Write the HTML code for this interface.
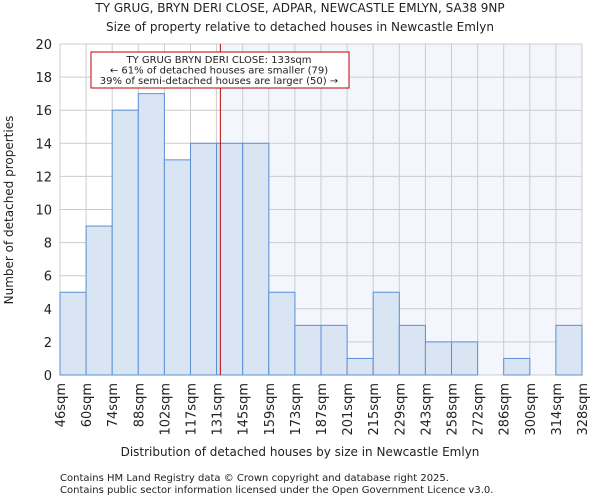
<!DOCTYPE html>
<html><head><meta charset="utf-8"><style>
body{margin:0;background:#fff;font-family:"DejaVu Sans","Liberation Sans",sans-serif;}
svg text{font-family:"DejaVu Sans","Liberation Sans",sans-serif;fill:#222;}
</style></head><body>
<svg id="c" width="600" height="500">
<text x="300" y="12" text-anchor="middle" font-size="12">TY GRUG, BRYN DERI CLOSE, ADPAR, NEWCASTLE EMLYN, SA38 9NP</text>
<text x="300" y="31" text-anchor="middle" font-size="12">Size of property relative to detached houses in Newcastle Emlyn</text>
<g id="plot"></g>
<text x="300" y="456" text-anchor="middle" font-size="12">Distribution of detached houses by size in Newcastle Emlyn</text>
<text transform="translate(13,210) rotate(-90)" text-anchor="middle" font-size="12">Number of detached properties</text>
<text x="60" y="481" font-size="10" fill="#444">Contains HM Land Registry data © Crown copyright and database right 2025.</text>
<text x="60" y="493" font-size="10" fill="#444">Contains public sector information licensed under the Open Government Licence v3.0.</text>
</svg>
<script>
const binLabels=["46sqm","60sqm","74sqm","88sqm","102sqm","117sqm","131sqm","145sqm","159sqm","173sqm","187sqm","201sqm","215sqm","229sqm","243sqm","258sqm","272sqm","286sqm","300sqm","314sqm","328sqm"];
const binEdges=[46,60,74,88,102,117,131,145,159,173,187,201,215,229,243,258,272,286,300,314,328];
const counts=[5,9,16,17,13,14,14,14,5,3,3,1,5,3,2,2,0,1,0,3];
const yTicks=[0,2,4,6,8,10,12,14,16,18,20];
const propertySize=133;
const NS="http://www.w3.org/2000/svg";
const L=60,R=582,T=44,B=375;
const n=counts.length;
const xi=i=>L+(R-L)*i/n;
function xv(v){for(let i=0;i<n;i++){if(v<=binEdges[i+1]){return xi(i)+(v-binEdges[i])/(binEdges[i+1]-binEdges[i])*(R-L)/n;}}return R;}
const y=v=>B-(B-T)*v/20;
const g=document.getElementById('plot');
function mk(t,a){const e=document.createElementNS(NS,t);for(const k in a)e.setAttribute(k,a[k]);g.appendChild(e);return e;}
const px=xv(propertySize);
let e=mk('rect',{x:px,y:T,width:R-px,height:B-T,fill:'#f3f6fd'});


yTicks.forEach(t=>{
 let l=mk('line',{x1:L,x2:R,y1:y(t),y2:y(t),stroke:'#cccccc'});
 
 
 let tx=mk('text',{x:L-8,y:y(t)+5,'text-anchor':'end','font-size':13});
 tx.textContent=t;
 
 
});
binLabels.forEach((s,i)=>{
 let l=mk('line',{x1:xi(i),x2:xi(i),y1:T,y2:B,stroke:'#cccccc'});
 
 
 let tx=mk('text',{'text-anchor':'end','font-size':13,transform:`translate(${xi(i)+5},${B+8}) rotate(-90)`});
 tx.textContent=s;
 
 
});
counts.forEach((c,i)=>{
 if(c<=0)return;
 let r=mk('rect',{x:xi(i),y:y(c),width:(R-L)/n,height:B-y(c),fill:'#dae5f4',stroke:'#5b8fd6','stroke-width':1});
 
 
});
e=mk('line',{x1:px,x2:px,y1:T,y2:B,stroke:'#c00000','stroke-width':1});


e=mk('rect',{x:91,y:52,width:258,height:36,fill:'#fff',stroke:'#c00000'});


["TY GRUG BRYN DERI CLOSE: 133sqm","← 61% of detached houses are smaller (79)","39% of semi-detached houses are larger (50) →"].forEach((s,i)=>{
 let tx=mk('text',{x:219,y:63+i*10.5,'text-anchor':'middle','font-size':10});
 tx.textContent=s;
 
 
});
</script>
</body></html>
